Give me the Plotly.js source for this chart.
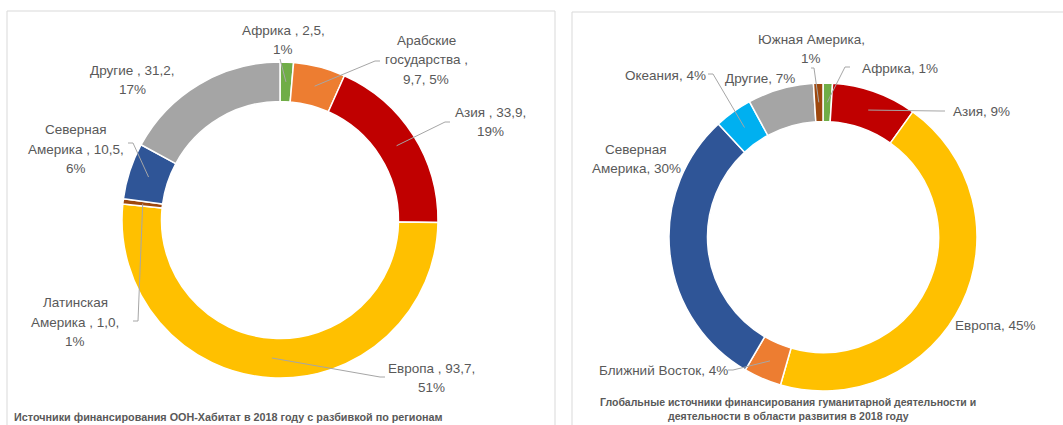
<!DOCTYPE html>
<html>
<head>
<meta charset="utf-8">
<script src="https://cdn.plot.ly/plotly-3.0.1.min.js"></script>
<style>html,body{margin:0;padding:0;background:#fff;}#chart{width:1063px;height:425px;}</style>
</head>
<body>
<div id="chart"></div>
<script>
// ---- Data: left chart (UN-Habitat funding 2018, by region) ----
const leftCategories = ["Африка", "Арабские государства", "Азия", "Европа", "Латинская Америка", "Северная Америка", "Другие"];
const leftValues = [2.5, 9.7, 33.9, 93.7, 1.0, 10.5, 31.2];
const leftPercentLabels = ["1%", "5%", "19%", "51%", "1%", "6%", "17%"];
const leftLabelTexts = ["Африка , 2,5,<br>1%", "Арабские<br>государства ,<br>9,7, 5%", "Азия , 33,9,<br>19%", "Европа , 93,7,<br>51%", "Латинская<br>Америка , 1,0,<br>1%", "Северная<br>Америка , 10,5,<br>6%", "Другие , 31,2,<br>17%"];
const leftColors = ["#70AD47", "#ED7D31", "#C00000", "#FFC000", "#9E480E", "#2F5597", "#A5A5A5"];

// ---- Data: right chart (global humanitarian/development funding 2018) ----
const rightCategories = ["Африка", "Азия", "Европа", "Ближний Восток", "Северная Америка", "Океания", "Другие", "Южная Америка"];
const rightValues = [1, 9, 45, 4, 30, 4, 7, 1];
const rightLabelTexts = ["Африка, 1%", "Азия, 9%", "Европа, 45%", "Ближний Восток, 4%", "Северная<br>Америка, 30%", "Океания, 4%", "Другие, 7%", "Южная Америка,<br>1%"];
const rightColors = ["#70AD47", "#C00000", "#FFC000", "#ED7D31", "#2F5597", "#00B0F0", "#A5A5A5", "#9E480E"];

const leftCaption = "Источники финансирования ООН-Хабитат в 2018 году с разбивкой по регионам";
const rightCaptionLines = ["Глобальные источники финансирования гуманитарной деятельности и", "деятельности в области развития в 2018 году"];

// ---- Layout helpers (pixel -> paper) ----
const W = 1063, H = 425;
const px = x => x / W;
const py = y => 1 - y / H;

const HOLE = 0.75;
const L = {cx: 280, cy: 220, r: 158, spacing: 19.5};
const R = {cx: 823, cy: 237, r: 154, spacing: 18.5};

function midPoint(vals, i, g) {
  const total = vals.reduce((a, b) => a + b, 0);
  let cum = 0;
  for (let k = 0; k < i; k++) cum += vals[k];
  const frac = (cum + vals[i] / 2) / total;
  const th = 2 * Math.PI * frac;
  const rr = g.r * (1 + HOLE) / 2;
  return [g.cx + rr * Math.sin(th), g.cy - rr * Math.cos(th)];
}

const labelFont = {family: "Liberation Sans, Arial, sans-serif", size: 13.5, color: "#595959"};

// label positions (pixel layout) and leader-line anchor points near labels
const leftLabelPos = [[283, 40], [426, 60], [490, 122], [431, 378], [75, 322], [76, 149], [132, 80]];
const leftLeaders = {0: [[280, 59]], 1: [[380, 61], [375, 61]], 2: [[450, 122], [445, 122]], 3: [[385, 377], [380, 377]], 4: [[133, 321], [138, 321]], 5: [[128, 143], [133, 143]]};
const rightLabelPos = [[900, 68], [981, 111], [995, 325], [663, 370], [636, 159], [665, 75], [760, 78], [811, 49]];
const rightLeaders = {0: [[850, 67], [845, 67]], 1: [[945, 111], [940, 111]], 3: [[728, 370], [733, 370]], 5: [[708, 74], [713, 74]], 7: [[811, 68], [814, 68]]};

const annotations = [];
const shapes = [];

// panel borders
shapes.push({type: "rect", xref: "paper", yref: "paper", x0: px(7), x1: px(555), y0: py(440), y1: py(11), line: {color: "#D9D9D9", width: 1}, layer: "below"});
shapes.push({type: "rect", xref: "paper", yref: "paper", x0: px(572), x1: px(1075), y0: py(440), y1: py(12), line: {color: "#D9D9D9", width: 1}, layer: "below"});

function addLabels(texts, pos, leaders, vals, g) {
  texts.forEach((t, i) => {
    const lines = t.split("<br>");
    const n = lines.length;
    lines.forEach((ln, k) => {
      annotations.push({xref: "paper", yref: "paper", x: px(pos[i][0]), y: py(pos[i][1] + (k - (n - 1) / 2) * g.spacing), text: ln, showarrow: false,
        xanchor: "center", yanchor: "middle", align: "center", font: labelFont});
    });
    if (leaders[i]) {
      const pts = leaders[i].concat([midPoint(vals, i, g)]);
      let d = "M " + px(pts[0][0]) + " " + py(pts[0][1]);
      for (let k = 1; k < pts.length; k++) d += " L " + px(pts[k][0]) + " " + py(pts[k][1]);
      shapes.push({type: "path", xref: "paper", yref: "paper", path: d, line: {color: "#A6A6A6", width: 1}, layer: "above"});
    }
  });
}
addLabels(leftLabelTexts, leftLabelPos, leftLeaders, leftValues, L);
addLabels(rightLabelTexts, rightLabelPos, rightLeaders, rightValues, R);

const capFontL = {family: "Liberation Sans, Arial, sans-serif", size: 10.8, color: "#595959", weight: "bold"};
const capFontR = {family: "Liberation Sans, Arial, sans-serif", size: 10.5, color: "#595959", weight: "bold"};
annotations.push({xref: "paper", yref: "paper", x: px(12), y: py(417), text: "<b>" + leftCaption + "</b>", showarrow: false, xanchor: "left", yanchor: "middle", align: "left", font: capFontL});
rightCaptionLines.forEach((ln, k) => {
  annotations.push({xref: "paper", yref: "paper", x: px(788), y: py(402 + k * 14), text: "<b>" + ln + "</b>", showarrow: false, xanchor: "center", yanchor: "middle", align: "center", font: capFontR});
});

const dom = g => ({x: [px(g.cx - g.r), px(g.cx + g.r)], y: [py(g.cy + g.r), py(g.cy - g.r)]});

const data = [
  {type: "pie", labels: leftCategories, values: leftValues, text: leftPercentLabels, hole: HOLE, sort: false, direction: "clockwise", rotation: 0,
   textinfo: "none", marker: {colors: leftColors, line: {color: "#FFFFFF", width: 1.5}}, domain: dom(L), hoverinfo: "label+value"},
  {type: "pie", labels: rightCategories, values: rightValues, hole: HOLE, sort: false, direction: "clockwise", rotation: 0,
   textinfo: "none", marker: {colors: rightColors, line: {color: "#FFFFFF", width: 1.5}}, domain: dom(R), hoverinfo: "label+percent"}
];

const layout = {width: W, height: H, margin: {l: 0, r: 0, t: 0, b: 0}, paper_bgcolor: "#FFFFFF", plot_bgcolor: "#FFFFFF",
  showlegend: false, annotations: annotations, shapes: shapes};

Plotly.newPlot("chart", data, layout, {staticPlot: true});
</script>
</body>
</html>
